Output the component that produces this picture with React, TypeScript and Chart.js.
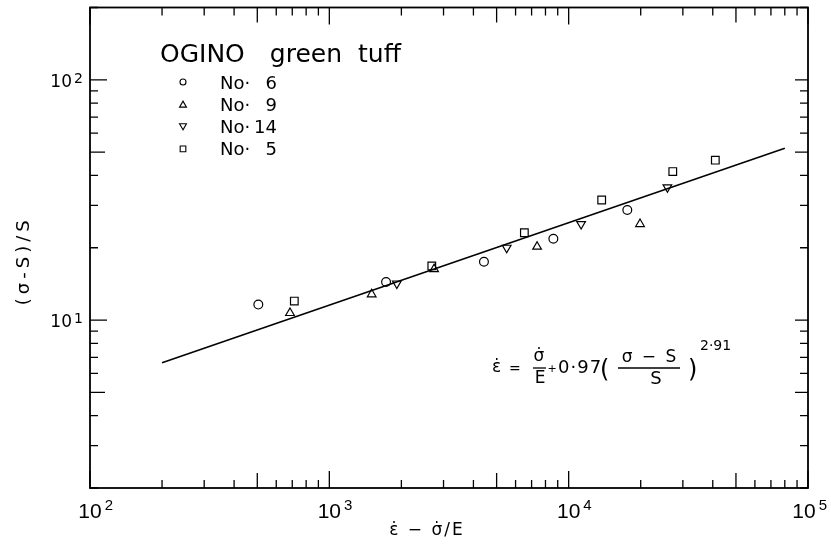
import React, { useEffect, useRef } from "react";
import { Chart, registerables } from "chart.js";

Chart.register(...registerables);

// ---- data ----
const no6X = [505, 1726, 4426, 8630, 17580];
const no6Y = [11.6, 14.4, 17.5, 21.8, 28.7];
const no9X = [685, 1503, 2739, 7380, 19870];
const no9Y = [10.7, 12.8, 16.3, 20.2, 25.1];
const no14X = [1914, 5508, 11270, 25850];
const no14Y = [14.2, 20.0, 25.1, 35.7];
const no5X = [714, 2680, 6530, 13740, 27230, 41000];
const no5Y = [12.0, 16.8, 23.1, 31.6, 41.5, 46.3];
const fitX = [200, 80000];
const fitY = [6.64, 51.9];

const seriesLabels = ["No· 6", "No· 9", "No· 14", "No· 5"];
const legendTitle = "OGINO green tuff";
const xTickValues = [1e2, 1e3, 1e4, 1e5];
const xTickLabels = ["10^2", "10^3", "10^4", "10^5"];
const yTickValues = [10, 100];
const yTickLabels = ["10^1", "10^2"];
const xTitle = "ε\u0307 − σ\u0307/E";
const yTitle = "(σ-S)/S";

const FONT = '"DejaVu Sans", "Liberation Sans", sans-serif';
const TICKFONT = '"Liberation Sans", "DejaVu Sans", sans-serif';

function pts(xs: number[], ys: number[]) {
  return xs.map((x, i) => ({ x, y: ys[i] }));
}

function drawMarker(ctx: CanvasRenderingContext2D, style: string, rotation: number, x: number, y: number, r: number) {
  ctx.beginPath();
  if (style === "circle") {
    ctx.arc(x, y, r, 0, Math.PI * 2);
  } else if (style === "rect") {
    const s = r * Math.SQRT1_2;
    ctx.rect(x - s, y - s, 2 * s, 2 * s);
  } else if (style === "triangle") {
    let rad = (rotation * Math.PI) / 180;
    ctx.moveTo(x + Math.sin(rad) * r, y - Math.cos(rad) * r);
    rad += (2 * Math.PI) / 3;
    ctx.lineTo(x + Math.sin(rad) * r, y - Math.cos(rad) * r);
    rad += (2 * Math.PI) / 3;
    ctx.lineTo(x + Math.sin(rad) * r, y - Math.cos(rad) * r);
    ctx.closePath();
  }
  ctx.stroke();
}

const paperPlugin = {
  id: "paper",
  beforeDraw(chart: any) {
    const ctx = chart.ctx;
    ctx.save();
    ctx.fillStyle = "#fff";
    ctx.fillRect(0, 0, chart.width, chart.height);
    ctx.restore();
  },
  afterDatasetsDraw(chart: any) {
    const ctx: CanvasRenderingContext2D = chart.ctx;
    const a = chart.chartArea;
    const xs = chart.scales.x;
    const ys = chart.scales.y;
    ctx.save();
    ctx.strokeStyle = "#000";
    ctx.fillStyle = "#000";

    // frame
    ctx.lineWidth = 1.8;
    ctx.strokeRect(a.left, a.top, a.right - a.left, a.bottom - a.top);

    // inward ticks
    ctx.lineWidth = 1.3;
    const len = (m: number) => (m === 1 ? 17 : m === 5 ? 15 : 8);
    const forLogTicks = (scale: any, cb: (v: number, m: number) => void) => {
      const lo = Math.floor(Math.log10(scale.min));
      const hi = Math.ceil(Math.log10(scale.max));
      for (let e = lo; e <= hi; e++) {
        for (let m = 1; m <= 9; m++) {
          const v = m * Math.pow(10, e);
          if (v < scale.min * 0.999 || v > scale.max * 1.001) continue;
          cb(v, m);
        }
      }
    };
    forLogTicks(xs, (v, m) => {
      const px = xs.getPixelForValue(v);
      const l = len(m);
      ctx.beginPath();
      ctx.moveTo(px, a.bottom);
      ctx.lineTo(px, a.bottom - l);
      ctx.moveTo(px, a.top);
      ctx.lineTo(px, a.top + l);
      ctx.stroke();
    });
    forLogTicks(ys, (v, m) => {
      const py = ys.getPixelForValue(v);
      const l = len(m);
      ctx.beginPath();
      ctx.moveTo(a.left, py);
      ctx.lineTo(a.left + l, py);
      ctx.moveTo(a.right, py);
      ctx.lineTo(a.right - (m === 1 || m === 5 ? 13 : 8), py);
      ctx.stroke();
    });

    // tick labels
    ctx.textBaseline = "alphabetic";
    xTickValues.forEach((v, i) => {
      const [base, exp] = xTickLabels[i].split("^");
      let px = xs.getPixelForValue(v);
      ctx.font = `21px ${TICKFONT}`;
      const w = ctx.measureText(base).width;
      ctx.font = `15px ${TICKFONT}`;
      const we = ctx.measureText(exp).width;
      const rightEdge = px + w / 2 + 3 + we;
      if (rightEdge > chart.width - 4) px -= rightEdge - (chart.width - 4);
      ctx.font = `21px ${TICKFONT}`;
      ctx.textAlign = "center";
      ctx.fillText(base, px, a.bottom + 30);
      ctx.font = `15px ${TICKFONT}`;
      ctx.textAlign = "left";
      ctx.fillText(exp, px + w / 2 + 3, a.bottom + 22);
    });
    yTickValues.forEach((v, i) => {
      const [base, exp] = yTickLabels[i].split("^");
      const py = ys.getPixelForValue(v);
      ctx.font = `17px ${FONT}`;
      ctx.textAlign = "right";
      ctx.fillText(base, a.left - 18, py + 7);
      ctx.font = `14px ${FONT}`;
      ctx.textAlign = "left";
      ctx.fillText(exp, a.left - 16, py + 3);
    });

    // axis titles
    ctx.font = `17px ${FONT}`;
    (ctx as any).letterSpacing = "2px";
    ctx.textAlign = "center";
    ctx.fillText(xTitle, a.left + 337, a.bottom + 47);
    ctx.save();
    ctx.font = `18px ${FONT}`;
    (ctx as any).letterSpacing = "4px";
    ctx.translate(29, (a.top + a.bottom) / 2 + 13);
    ctx.rotate(-Math.PI / 2);
    ctx.fillText(yTitle, 0, 0);
    ctx.restore();
    (ctx as any).letterSpacing = "0px";

    // legend
    ctx.textAlign = "left";
    ctx.font = `25px ${FONT}`;
    let tx = a.left + 70;
    const words = legendTitle.split(" ");
    words.forEach((wd, i) => {
      ctx.fillText(wd, tx, a.top + 54.5);
      tx += ctx.measureText(wd).width + (i === 0 ? 25 : 16);
    });
    ctx.lineWidth = 1.1;
    const dsList = chart.data.datasets.filter((d: any) => !d.isFit);
    dsList.forEach((d: any, i: number) => {
      const cy = a.top + 74.5 + i * 22.3;
      const mr = d.pointStyle === "circle" ? 3 : 4;
      drawMarker(ctx, d.pointStyle, d.rotation || 0, a.left + 93, cy + (d.pointStyle === "triangle" ? (d.rotation ? -0.8 : 0.8) : 0), mr);
      const [pre, num] = seriesLabels[i].split(" ");
      ctx.font = `18px ${FONT}`;
      ctx.textAlign = "left";
      ctx.fillText(pre, a.left + 130, cy + 6.5);
      ctx.textAlign = "right";
      ctx.fillText(num, a.left + 187, cy + 6.5);
    });

    // equation
    const ex = a.right - 316;
    const ey = a.bottom - 120;
    const t = (s: string, x: number, y: number, size: number, align: CanvasTextAlign = "left", ls = 0) => {
      ctx.font = `${size}px ${FONT}`;
      ctx.textAlign = align;
      (ctx as any).letterSpacing = `${ls}px`;
      ctx.fillText(s, x, y);
      (ctx as any).letterSpacing = "0px";
    };
    ctx.lineWidth = 1.3;
    t("ε\u0307", ex, ey + 4, 17);
    t("=", ex + 17, ey + 5, 14);
    t("σ\u0307", ex + 47, ey - 7, 17, "center");
    ctx.beginPath();
    ctx.moveTo(ex + 41, ey);
    ctx.lineTo(ex + 54, ey);
    ctx.stroke();
    t("E", ex + 48, ey + 15, 17, "center");
    t("+", ex + 60, ey + 4, 11, "center");
    t("0·97", ex + 66, ey + 5, 18, "left", 1);
    t("(", ex + 108, ey + 9, 24);
    t("σ − S", ex + 158, ey - 6, 17, "center", 2);
    ctx.beginPath();
    ctx.moveTo(ex + 126, ey);
    ctx.lineTo(ex + 188, ey);
    ctx.stroke();
    t("S", ex + 164, ey + 16, 18, "center");
    t(")", ex + 196, ey + 9, 24);
    t("2·91", ex + 208, ey - 18, 14);

    ctx.restore();
  },
};

export default function App() {
  const ref = useRef<HTMLCanvasElement>(null);
  useEffect(() => {
    if (!ref.current) return;
    const common = {
      borderColor: "#000",
      backgroundColor: "rgba(0,0,0,0)",
      borderWidth: 1.2,
      showLine: false,
    };
    const chart = new Chart(ref.current, {
      type: "scatter",
      data: {
        datasets: [
          { ...common, label: seriesLabels[0], data: pts(no6X, no6Y), pointStyle: "circle", pointRadius: 4.4, rotation: 0 },
          { ...common, label: seriesLabels[1], data: pts(no9X, no9Y), pointStyle: "triangle", pointRadius: 5, rotation: 0 },
          { ...common, label: seriesLabels[2], data: pts(no14X, no14Y), pointStyle: "triangle", pointRadius: 5, rotation: 180 },
          { ...common, label: seriesLabels[3], data: pts(no5X, no5Y), pointStyle: "rect", pointRadius: 5.4, rotation: 0 },
          {
            label: "fit",
            isFit: true,
            data: pts(fitX, fitY),
            showLine: true,
            pointRadius: 0,
            borderColor: "#000",
            borderWidth: 1.5,
            backgroundColor: "#000",
          } as any,
        ],
      },
      options: {
        animation: false,
        responsive: false,
        events: [],
        layout: { padding: { left: 90, right: 23, top: 7.5, bottom: 60 } },
        plugins: { legend: { display: false }, tooltip: { enabled: false } },
        scales: {
          x: { type: "logarithmic", min: 100, max: 100000, display: false },
          y: { type: "logarithmic", min: 2, max: 200, display: false },
        },
      } as any,
      plugins: [paperPlugin as any],
    });
    return () => chart.destroy();
  }, []);
  return (
    <div style={{ position: "absolute", left: 0, top: 0, width: 831, height: 548, background: "#fff" }}>
      <canvas ref={ref} width={831} height={548} style={{ display: "block" }} />
    </div>
  );
}
